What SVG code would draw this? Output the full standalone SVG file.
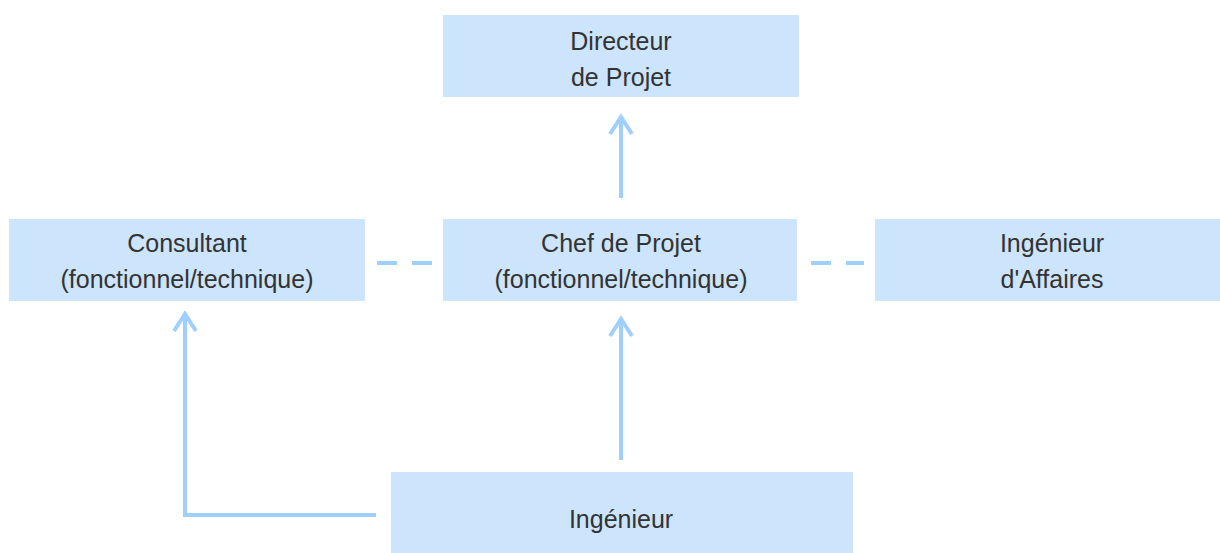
<svg xmlns="http://www.w3.org/2000/svg" width="1220" height="553" viewBox="0 0 1220 553">
<style>
.box{fill:#cce4fc}
.t{font-family:"Liberation Sans",Arial,sans-serif;font-size:25px;fill:#333333;text-anchor:middle}
.c{stroke:#9fcfff;stroke-width:4;fill:none}
.d{stroke:#9fcfff;stroke-width:4;fill:none;stroke-dasharray:20 15}
</style>
<rect width="1220" height="553" fill="#ffffff"/>
<g id="connectors">
<path class="c" d="M621,198 V117 M610,134 L621,117 L632,134"/>
<path class="c" d="M621,460 V319 M610,336 L621,319 L632,336"/>
<path class="c" d="M376,515 H185 V314 M174,331 L185,314 L196,331"/>
<line class="d" x1="377" y1="263" x2="432" y2="263"/>
<line class="d" x1="811" y1="263" x2="864" y2="263"/>
</g>
<g id="directeur">
<rect class="box" x="443" y="15" width="356" height="82"/>
<text class="t" x="621" y="50">Directeur</text>
<text class="t" x="621" y="86">de Projet</text>
</g>
<g id="consultant">
<rect class="box" x="9" y="219" width="356" height="82"/>
<text class="t" x="187" y="252">Consultant</text>
<text class="t" x="187" y="288">(fonctionnel/technique)</text>
</g>
<g id="chef">
<rect class="box" x="443" y="219" width="354" height="82"/>
<text class="t" x="621" y="252">Chef de Projet</text>
<text class="t" x="621" y="288">(fonctionnel/technique)</text>
</g>
<g id="ingenieur-affaires">
<rect class="box" x="875" y="219" width="355" height="82"/>
<text class="t" x="1052" y="252">Ingénieur</text>
<text class="t" x="1052" y="288">d'Affaires</text>
</g>
<g id="ingenieur">
<rect class="box" x="391" y="472" width="462" height="81"/>
<text class="t" x="621" y="528">Ingénieur</text>
</g>
</svg>
